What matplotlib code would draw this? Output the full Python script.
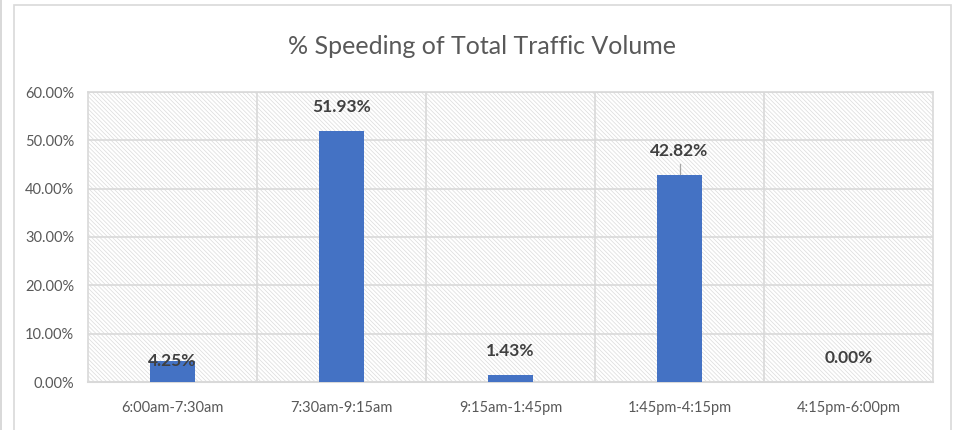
import matplotlib

matplotlib.use("Agg")
import matplotlib.pyplot as plt
import numpy as np
from matplotlib.patches import Rectangle

# data
periods = ["6:00am-7:30am", "7:30am-9:15am", "9:15am-1:45pm", "1:45pm-4:15pm", "4:15pm-6:00pm"]
pct_speeding = [4.25, 51.93, 1.43, 42.82, 0.00]
y_ticks = [0, 10, 20, 30, 40, 50, 60]

plt.rcParams["font.family"] = ["Lato", "DejaVu Sans"]
plt.rcParams["hatch.color"] = "#dedede"
plt.rcParams["hatch.linewidth"] = 0.55

fig = plt.figure(figsize=(9.57, 4.30), dpi=100)
ax = fig.add_axes([88 / 957, 1 - 382 / 430, (933 - 88) / 957, (382 - 92) / 430])

# outer chart frame
fig.patches.append(Rectangle((14 / 957, -0.05), (951 - 14) / 957, 1.05 - 5 / 430,
                             transform=fig.transFigure, fill=False,
                             edgecolor="#d9d9d9", linewidth=1.2))
fig.patches.append(Rectangle((0.5 / 957, -0.05), 0, 1.1,
                             transform=fig.transFigure, fill=False,
                             edgecolor="#d9d9d9", linewidth=1.2))

x = np.arange(len(periods))
ax.set_xlim(-0.5, len(periods) - 0.5)
ax.set_ylim(0, 60)

# hatched plot background
ax.add_patch(Rectangle((-0.5, 0), len(periods), 60, facecolor="white",
                       hatch="\\" * 8, edgecolor="#dedede", linewidth=0, zorder=0))

for yt in y_ticks[1:]:
    ax.axhline(yt, color="#d9d9d9", linewidth=1.2, zorder=1)
for b in np.arange(0.5, len(periods) - 0.5, 1):
    ax.axvline(b, color="#d9d9d9", linewidth=1.2, zorder=1)

ax.bar(x, pct_speeding, width=0.27, color="#4472c4", zorder=3)

for i, v in enumerate(pct_speeding):
    if i == 0:
        ty = v
    else:
        ty = v + 5.0
    ax.text(i, ty, f"{v:.2f}%", ha="center", va="center", fontsize=12.5,
            fontweight="bold", color="#404040", zorder=4)
    if i == 3:
        ax.plot([i, i], [v + 0.2, v + 2.2], color="#a6a6a6", linewidth=0.9, zorder=4)

ax.set_yticks(y_ticks)
ax.set_yticklabels([f"{t:.2f}%" for t in y_ticks])
ax.set_xticks(x)
ax.set_xticklabels(periods)
ax.tick_params(axis="both", length=0, labelsize=10.5, labelcolor="#595959")
ax.tick_params(axis="x", pad=14)
ax.tick_params(axis="y", pad=10)

for side in ["top", "right", "left"]:
    ax.spines[side].set_color("#d9d9d9")
    ax.spines[side].set_linewidth(1.2)
ax.spines["bottom"].set_color("#d9d9d9")
ax.spines["bottom"].set_linewidth(1.5)

fig.text(482 / 957, 1 - 46 / 430, "% Speeding of Total Traffic Volume",
         ha="center", va="center", fontsize=18, color="#595959")

fig.savefig("out.png", dpi=100)
plt.close(fig)
